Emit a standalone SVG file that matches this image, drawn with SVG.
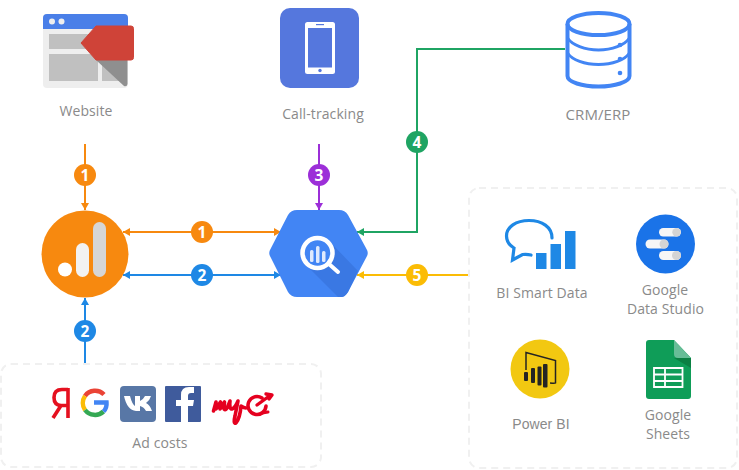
<svg xmlns="http://www.w3.org/2000/svg" width="739" height="470" viewBox="0 0 739 470">
<style>
.lbl{font-family:"Open Sans","Noto Sans",sans-serif;font-size:14px;fill:#8a8a8a;text-anchor:middle;letter-spacing:.1px}
.num{font-family:"Open Sans","Liberation Sans",sans-serif;font-size:15.500px;font-weight:700;fill:#fff;text-anchor:middle}
.box{fill:#fff;stroke:#f0f0f0;stroke-width:2;stroke-dasharray:7 5}
.c{fill:none;stroke-width:2}
.or{stroke:#f7890f}.bl{stroke:#1e88e5}.pu{stroke:#9c2fd8}.gr{stroke:#1fa463}.ye{stroke:#fbbc05}
.db{fill:none;stroke:#4285f4;stroke-width:4}
.pill{fill:#f6f6f6}
</style>
<defs>
<marker id="ao" markerWidth="8" markerHeight="8" refX="7" refY="4" orient="auto-start-reverse" markerUnits="userSpaceOnUse"><path d="M0 0L7 4L0 8z" fill="#f7890f"/></marker>
<marker id="ab" markerWidth="8" markerHeight="8" refX="7" refY="4" orient="auto-start-reverse" markerUnits="userSpaceOnUse"><path d="M0 0L7 4L0 8z" fill="#1e88e5"/></marker>
<marker id="ap" markerWidth="8" markerHeight="8" refX="7" refY="4" orient="auto" markerUnits="userSpaceOnUse"><path d="M0 0L7 4L0 8z" fill="#9c2fd8"/></marker>
<marker id="ag" markerWidth="8" markerHeight="8" refX="7" refY="4" orient="auto" markerUnits="userSpaceOnUse"><path d="M0 0L7 4L0 8z" fill="#1fa463"/></marker>
<marker id="ay" markerWidth="8" markerHeight="8" refX="7" refY="4" orient="auto" markerUnits="userSpaceOnUse"><path d="M0 0L7 4L0 8z" fill="#fbbc05"/></marker>
</defs>

<g id="ad-costs">
<rect class="box" x="1" y="364" width="320" height="103" rx="10"/>
<path d="M68 389.500H62Q54 389.500 54 397.500Q54 405 61 405.500L53 418M68 388V418M68 405.500H61" fill="none" stroke="#e5101f" stroke-width="3.600"/>
<path d="M104 394.500A12.500 12.500 0 0 0 85 396" fill="none" stroke="#ea4335" stroke-width="4.500"/>
<path d="M85 396A12.500 12.500 0 0 0 85 410" fill="none" stroke="#fbbc05" stroke-width="4.500"/>
<path d="M85 410A12.500 12.500 0 0 0 103.500 411.500" fill="none" stroke="#34a853" stroke-width="4.500"/>
<path d="M103.500 411.500Q107 408 106.500 402.500H94" fill="none" stroke="#4285f4" stroke-width="4.500"/>
<rect x="120" y="386" width="36" height="36" rx="4" fill="#5877a6"/>
<path d="M124 396H130Q132 404 135 406V396H140V401Q143 400 145 396H151Q150 400 146 403Q150 405 152 411H146Q144 407 140 406V411H136Q127 410 124 396z" fill="#fff"/>
<rect x="165" y="386" width="36" height="36" rx="1" fill="#3f5b9c"/>
<path d="M188 422V406H193L194 400H188V396Q188 393 191 393H194V387H189Q181 387 181 395V400H176V406H181V422z" fill="#fff"/>
<g fill="none" stroke="#e5001f" stroke-linecap="round" stroke-linejoin="round">
<path d="M213.500 411L216 402V409L220.500 402L220 409L224.500 402L224 409Q226 411 228 406L230 401Q229 409 232 409Q235 408 238 401L235 416Q233 424 236 423Q240 418 241 406Q244 408 246 408" stroke-width="3.600"/>
<path d="M262 398A9 9 0 1 0 266 406" stroke-width="3.600"/>
<path d="M257 405L270 395.500M266 394L272 395L269 399" stroke-width="3.400"/>
<path d="M262 413L268 412" stroke-width="3"/>
</g>
<text class="lbl" x="160" y="448">Ad costs</text>
</g>

<g id="bi-tools-panel"><rect class="box" x="469" y="188" width="268" height="280" rx="10"/></g>

<g id="connectors">
<path class="c or" d="M85 144V210" marker-end="url(#ao)"/>
<path class="c pu" d="M319 144V210" marker-end="url(#ap)"/>
<path class="c or" d="M123 232H281" marker-start="url(#ao)" marker-end="url(#ao)"/>
<path class="c bl" d="M123 275H281" marker-start="url(#ab)" marker-end="url(#ab)"/>
<path class="c bl" d="M85 363V298" marker-end="url(#ab)"/>
<path class="c gr" d="M565 49H417V232H357" marker-end="url(#ag)"/>
<path class="c ye" d="M468 275H357" marker-end="url(#ay)"/>
<circle cx="85" cy="175" r="11" fill="#f7890f"/><text class="num" x="85" y="180.500">1</text>
<circle cx="319" cy="175" r="11" fill="#9c2fd8"/><text class="num" x="319" y="180.500">3</text>
<circle cx="202" cy="232" r="11" fill="#f7890f"/><text class="num" x="202" y="237.500">1</text>
<circle cx="202" cy="275" r="11" fill="#1e88e5"/><text class="num" x="202" y="280.500">2</text>
<circle cx="85" cy="331" r="11" fill="#1e88e5"/><text class="num" x="85" y="336.500">2</text>
<circle cx="417" cy="142" r="11" fill="#1fa463"/><text class="num" x="417" y="147.500">4</text>
<circle cx="417" cy="275" r="11" fill="#fbbc05"/><text class="num" x="417" y="280.500">5</text>
</g>

<g id="website">
<rect x="43" y="14" width="85" height="74" rx="4" fill="#eeeeee"/>
<path d="M43 29V18Q43 14 47 14H124Q128 14 128 18V29z" fill="#4a7fe8"/>
<circle cx="52" cy="21.500" r="3" fill="#eee"/><circle cx="61.500" cy="21.500" r="3" fill="#eee"/>
<rect x="49" y="34" width="49" height="15" fill="#c0c0c0"/>
<rect x="49" y="54" width="49" height="27" fill="#c0c0c0"/>
<rect x="102" y="54" width="21" height="27" fill="#c0c0c0"/>
<path d="M96 60H127.500V84Q127 87 124 86z" fill="#8f8f8f"/>
<path d="M81 43L96 26H131Q133.500 26 133.500 28.500V57.500Q133.500 60 131 60H96z" fill="#cf4338" stroke="#cf4338" stroke-linejoin="round"/>
<text class="lbl" x="86" y="116">Website</text>
</g>

<g id="call-tracking">
<rect x="280" y="8" width="79" height="80" rx="10" fill="#5577dd"/>
<rect x="305" y="22" width="30" height="52" rx="2.500" fill="#fff"/>
<rect x="308" y="28" width="24" height="39.500" fill="#5577dd"/>
<rect x="316" y="24" width="8" height="1.200" fill="#5577dd"/>
<circle cx="320" cy="70.500" r="1.700" fill="#5577dd"/>
<text class="lbl" x="323" y="119">Call-tracking</text>
</g>

<g id="crm-erp">
<path class="db" d="M567.500 24V76C567.500 82 582 86.500 598.500 86.500S629.500 82 629.500 76V24"/>
<ellipse class="db" cx="598.500" cy="24" rx="31" ry="11"/>
<path class="db" style="stroke-width:3" d="M567.500 38C572 45 585 50 598.500 50S625 45 629.500 38M567.500 53C572 60 585 64.500 598.500 64.500S625 60 629.500 53"/>
<circle cx="620" cy="45" r="2.300" fill="#4285f4"/><circle cx="620" cy="59" r="2.300" fill="#4285f4"/><circle cx="620" cy="73" r="2.300" fill="#4285f4"/>
<text class="lbl" style="font-size:15px" x="598" y="120">CRM/ERP</text>
</g>

<g id="google-analytics">
<circle cx="85" cy="254" r="43.500" fill="#f7890f"/>
<rect x="93" y="222" width="13" height="55" rx="6.500" fill="#d6d6d6"/>
<rect x="76" y="243" width="13" height="34" rx="6.500" fill="#f2f2f2"/>
<circle cx="65" cy="269.500" r="7" fill="#fff"/>
</g>

<g id="bigquery">
<path d="M297 210H339Q345 210 348 215L366.500 249Q369 253 366.500 257L348 292Q345 297 339 297H297Q291 297 288 292L270.500 257Q268 253 270.500 249L288 215Q291 210 297 210z" fill="#4285f4"/>
<path d="M309 268L331 243L358 271L348 292Q345 297 342 297H338z" fill="#3a78e3"/>
<circle cx="317.500" cy="253" r="15" fill="#4285f4" stroke="#fff" stroke-width="4.500"/>
<path d="M329 264L338 272" stroke="#fff" stroke-width="4" stroke-linecap="round"/>
<rect x="310" y="250" width="3.500" height="12" rx="1.500" fill="#dfe9fd"/>
<rect x="316" y="246" width="3.500" height="17" rx="1.500" fill="#dfe9fd"/>
<rect x="322" y="251" width="3.500" height="11" rx="1.500" fill="#dfe9fd"/>
</g>

<g id="bi-smart-data">
<path d="M552 238C552 227 542 220.500 529 220.500C516 220.500 506.500 227 506.500 236C506.500 241 509 245 514 248L512.500 260L522.500 254.500Q527 254 531 255" fill="none" stroke="#1e88e5" stroke-width="3.200" stroke-linecap="round"/>
<rect x="536" y="253" width="10.500" height="16" fill="#1e88e5"/>
<rect x="550.500" y="244" width="10.500" height="25" fill="#1e88e5"/>
<rect x="565" y="231" width="10.500" height="38" fill="#1e88e5"/>
<text class="lbl" x="542" y="298">BI Smart Data</text>
</g>

<g id="google-data-studio">
<circle cx="665.500" cy="244" r="29.500" fill="#1a73e8"/>
<rect x="659" y="228" width="22" height="8.500" rx="4.200" class="pill"/>
<rect x="645.500" y="239.500" width="23" height="9" rx="4.500" class="pill"/>
<rect x="659" y="251" width="22" height="9" rx="4.500" class="pill"/>
<circle cx="676.500" cy="232.200" r="4.200" fill="#d4d4d4"/><circle cx="664" cy="244" r="4.500" fill="#d4d4d4"/><circle cx="676.500" cy="255.500" r="4.500" fill="#d4d4d4"/>
<text class="lbl" x="665" y="295">Google<tspan x="665.500" y="314.200">Data Studio</tspan></text>
</g>

<g id="power-bi">
<circle cx="540" cy="369" r="29.500" fill="#f2c811"/>
<path d="M526 370V352.500L555.500 360.500V383Q555 383.500 550 383" fill="none" stroke="#252423" stroke-width="1.500"/>
<rect x="524" y="372" width="4" height="9" rx="1" fill="#252423"/>
<rect x="531" y="368" width="4" height="15" rx="1" fill="#252423"/>
<rect x="537.500" y="366.500" width="4" height="19" rx="1" fill="#252423"/>
<rect x="543" y="364" width="4.500" height="23.500" rx="1" fill="#252423"/>
<text class="lbl" style="font-family:'Liberation Sans',Arial,sans-serif" x="541" y="429">Power BI</text>
</g>

<g id="google-sheets">
<path d="M649 340H674L691 358V396Q691 399 688 399H649Q646 399 646 396V343Q646 340 649 340z" fill="#0f9d58"/>
<path d="M674 358H691V368z" fill="#0b8043"/>
<path d="M674 340L691 358H678Q674 358 674 354z" fill="#67bd97"/>
<path d="M654 368H682.500V387H654zM654 374.500H682.500M654 381H682.500M665 368V387" fill="none" stroke="#fff" stroke-width="1.800"/>
<text class="lbl" x="668" y="419.500">Google<tspan x="668" y="438.700">Sheets</tspan></text>
</g>
</svg>
